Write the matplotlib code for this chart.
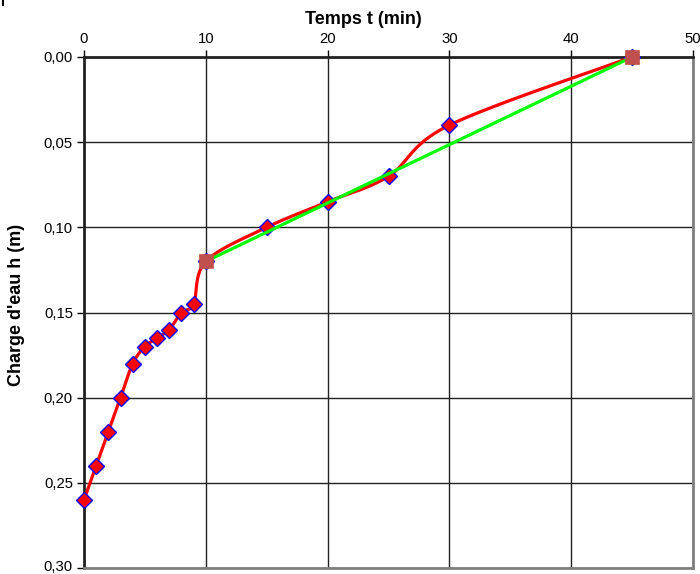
import numpy as np
import matplotlib
matplotlib.use("Agg")
import matplotlib.pyplot as plt
from matplotlib.ticker import FuncFormatter
from matplotlib.lines import Line2D
from matplotlib.transforms import ScaledTranslation

plt.rcParams['font.family'] = ['Liberation Sans', 'DejaVu Sans']

# Measurements: time (min) and water head (m)
temps = [0, 1, 2, 3, 4, 5, 6, 7, 8, 9, 10, 15, 20, 25, 30, 45]
charge = [0.26, 0.24, 0.22, 0.20, 0.18, 0.17, 0.165, 0.16, 0.15, 0.145,
          0.12, 0.10, 0.085, 0.07, 0.04, 0.00]

# Straight segment fitted on the late-time part
temps_droite = [10, 45]
charge_droite = [0.12, 0.00]

x_ticks = [0, 10, 20, 30, 40, 50]
y_ticks = [0.00, 0.05, 0.10, 0.15, 0.20, 0.25, 0.30]

W, H, DPI = 7.0, 5.74, 100
fig = plt.figure(figsize=(W, H), dpi=DPI)
ax = fig.add_axes([84 / 700, 1 - 568 / 574, (693 - 84) / 700, (568 - 57) / 574])


def smooth(xs, ys, sx, sy, n=40):
    """Catmull-Rom style Bezier smoothing, computed in screen-proportional units."""
    P = np.column_stack([np.asarray(xs, float) * sx, np.asarray(ys, float) * sy])
    out = [P[0]]
    for i in range(len(P) - 1):
        p0 = P[i - 1] if i > 0 else P[i]
        p1, p2 = P[i], P[i + 1]
        p3 = P[i + 2] if i + 2 < len(P) else P[i + 1]
        c1 = p1 + (p2 - p0) / 6.0
        c2 = p2 - (p3 - p1) / 6.0
        t = np.linspace(0, 1, n)[1:, None]
        seg = ((1 - t) ** 3) * p1 + 3 * ((1 - t) ** 2) * t * c1 \
            + 3 * (1 - t) * t ** 2 * c2 + t ** 3 * p2
        out.extend(seg)
    out = np.array(out)
    return out[:, 0] / sx, out[:, 1] / sy


sx = 609 / 50.0
sy = 511 / 0.30
cx, cy = smooth(temps, charge, sx, sy)

ax.plot(cx, cy, color='#FF0000', lw=2.3, zorder=3, solid_capstyle='round',
        clip_on=False)
ax.plot(temps, charge, ls='none', marker='D', ms=8, mfc='#FF0000',
        mec='#0000FF', mew=1.0, zorder=4, clip_on=False)
ax.plot(temps_droite, charge_droite, color='#00FF00', lw=2.3, zorder=5,
        clip_on=False)
ax.plot(temps_droite, charge_droite, ls='none', marker='s', ms=9.5,
        mfc='#C0504D', mec='#C0504D', mew=0.5, zorder=6, clip_on=False)

ax.set_xlim(0, 50)
ax.set_ylim(0.30, 0.00)
ax.set_xticks(x_ticks)
ax.set_yticks(y_ticks)
ax.xaxis.set_ticks_position('top')
ax.xaxis.set_label_position('top')
ax.yaxis.set_major_formatter(FuncFormatter(lambda v, p: f"{v:.2f}".replace('.', ',')))
ax.xaxis.set_major_formatter(FuncFormatter(lambda v, p: f"{v:.0f}"))
ax.tick_params(axis='both', which='major', direction='out', length=5,
               width=1, color='black', labelsize=10.7, pad=3)
ax.tick_params(axis='x', top=True, bottom=False, labeltop=True, labelbottom=False)

ax.grid(True, color='#222222', lw=1.0, zorder=1)
ax.set_axisbelow(True)

for side in ('left', 'top'):
    ax.spines[side].set_color('#222222')
    ax.spines[side].set_linewidth(2.0)
for side in ('right', 'bottom'):
    ax.spines[side].set_color('#808080')
    ax.spines[side].set_linewidth(2.0)

# keep the lowest y label inside the canvas
fig.canvas.draw()
last = ax.get_yticklabels()[-1]
last.set_transform(last.get_transform() + ScaledTranslation(0, 2 / 72, fig.dpi_scale_trans))

fig.text(363 / 700, 1 - 20 / 574, 'Temps t (min)', ha='center', va='center',
         fontsize=13, fontweight='bold')
fig.text(17 / 700, 1 - 305 / 574, "Charge d'eau h (m)", ha='center', va='center',
         rotation=90, fontsize=13, fontweight='bold')

# small mark in the upper-left corner
fig.add_artist(Line2D([2.5 / 700, 2.5 / 700], [1.0, 1 - 5 / 574],
                      transform=fig.transFigure, color='black', lw=1.5))

fig.savefig('out.png', dpi=DPI)
